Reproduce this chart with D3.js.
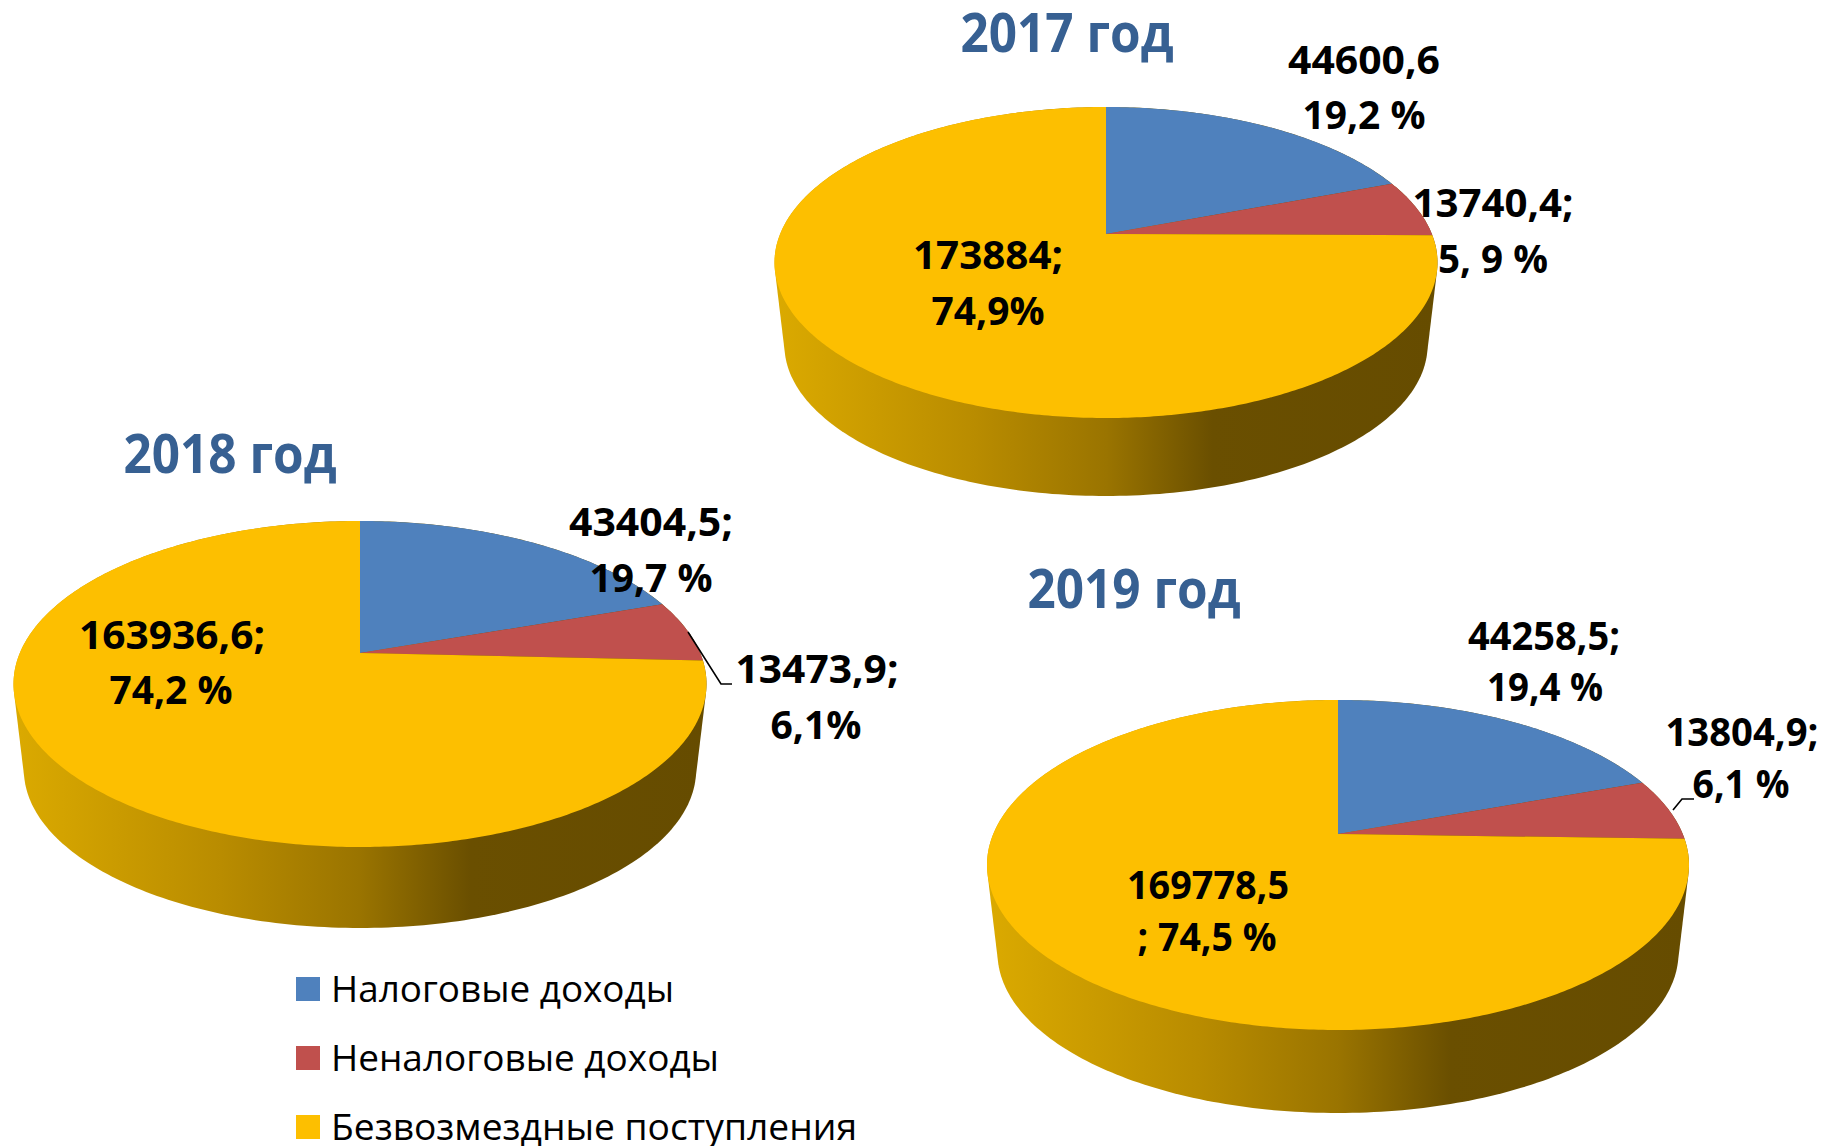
<!DOCTYPE html>
<html><head><meta charset="utf-8">
<script src="https://cdn.jsdelivr.net/npm/d3@7"></script>
<style>html,body{margin:0;padding:0;background:#fff}svg{display:block}text{font-family:"Open Sans",sans-serif}</style>
</head><body><svg id="c" width="1821" height="1146"></svg>
<script>
const categories = ["Налоговые доходы", "Неналоговые доходы", "Безвозмездные поступления"];
const colors = ["#4F81BD", "#C0504D", "#FDBF00"];
const years = ["2017 год", "2018 год", "2019 год"];
const values2017 = [44600.6, 13740.4, 173884];
const values2018 = [43404.5, 13473.9, 163936.6];
const values2019 = [44258.5, 13804.9, 169778.5];
const labels2017 = [["44600,6", "19,2 %"], ["13740,4;", "5, 9 %"], ["173884;", "74,9%"]];
const labels2018 = [["43404,5;", "19,7 %"], ["13473,9;", "6,1%"], ["163936,6;", "74,2 %"]];
const labels2019 = [["44258,5;", "19,4 %"], ["13804,9;", "6,1 %"], ["169778,5", "; 74,5 %"]];

// Layout only (no data): pie geometry and text placement [centre x, baseline, width]
const layouts = [
  {cx:1106, apex:234, left:775, right:1438, top:107, bottom:418, sideBottom:496,
   title:[1067,52,213], pos:[[[1364,74,152],[1364,129,123]],[[1493,217,161],[1493,273,110]],[[988,269,150],[988,325,113]]], leader:null},
  {cx:360, apex:653, left:13, right:706, top:521, bottom:847, sideBottom:928,
   title:[230,473,213], pos:[[[651,536,164],[651,592,123]],[[817,683,163],[816,739,91]],[[172,649,186],[171,704,123]]],
   leader:[[688,632],[721,684],[732,684]]},
  {cx:1338, apex:834, left:987, right:1689, top:700, bottom:1030, sideBottom:1113,
   title:[1134,608,213], pos:[[[1544,650,152],[1545,701,116]],[[1742,746,153],[1741,798,97]],[[1208,899,162],[1207,951,139]]],
   leader:[[1673,810],[1682,799],[1694,799]]}
];
const allValues = [values2017, values2018, values2019];
const allLabels = [labels2017, labels2018, labels2019];

const svg = d3.select("#c");
const defs = svg.append("defs");
const pie = d3.pie().sort(null);
const line = d3.line();

function projector(L) {
  const up = L.apex - L.top, down = L.bottom - L.apex;
  const k = (down - up) / (down + up);
  const B = up * (1 + k);
  const A = (L.right - L.left) / 2 * Math.sqrt(1 - k * k);
  return (a, r = 1, s = 1, ay = L.apex) => {
    const x = r * Math.sin(a), y = -r * Math.cos(a), w = 1 - k * y;
    return [L.cx + s * A * x / w, ay + s * B * y / w];
  };
}

layouts.forEach((L, i) => {
  const g = svg.append("g");
  const P = projector(L);
  const ring = d3.range(0, 360).map(d => d * Math.PI / 180);
  const shrink = 0.97;
  const apex2 = L.sideBottom - shrink * (L.bottom - L.apex);
  const hull = d3.polygonHull(ring.map(a => P(a)).concat(ring.map(a => P(a, 1, shrink, apex2))));
  const gid = "side" + i;
  const grad = defs.append("linearGradient").attr("id", gid)
    .attr("gradientUnits", "userSpaceOnUse")
    .attr("x1", L.left).attr("x2", L.right).attr("y1", 0).attr("y2", 0);
  [[0, "#DBAA00"], [0.3, "#B98C00"], [0.5, "#9A7400"], [0.66, "#6A4F00"], [1, "#664C00"]]
    .forEach(s => grad.append("stop").attr("offset", s[0]).attr("stop-color", s[1]));
  g.append("path").attr("d", line(hull) + "Z").attr("fill", `url(#${gid})`);

  g.selectAll("path.slice").data(pie(allValues[i])).join("path").attr("class", "slice")
    .attr("fill", (d, j) => colors[j])
    .attr("d", d => {
      const n = Math.ceil((d.endAngle - d.startAngle) * 90);
      const pts = d3.range(n + 1).map(t => P(d.startAngle + (d.endAngle - d.startAngle) * t / n));
      return line([[L.cx, L.apex], ...pts]) + "Z";
    });

  if (L.leader) g.append("path").attr("d", line(L.leader)).attr("fill", "none")
    .attr("stroke", "#000").attr("stroke-width", 1.6);

  g.append("text").text(years[i])
    .attr("x", L.title[0]).attr("y", L.title[1]).attr("text-anchor", "middle")
    .attr("font-size", 54).attr("font-weight", 700).attr("fill", "#376092")
    .attr("textLength", L.title[2]).attr("lengthAdjust", "spacingAndGlyphs");

  allLabels[i].forEach((pair, j) => pair.forEach((t, m) => {
    const p = L.pos[j][m];
    g.append("text").text(t).attr("x", p[0]).attr("y", p[1]).attr("text-anchor", "middle")
      .attr("font-size", 40).attr("font-weight", 700).attr("fill", "#000")
      .attr("textLength", p[2]).attr("lengthAdjust", "spacingAndGlyphs");
  }));
});

const legendY = d3.scalePoint().domain(categories).range([989, 1127]);
const legendW = [343, 388, 526];
const lg = svg.append("g").selectAll("g").data(categories).join("g")
  .attr("transform", d => `translate(296,${legendY(d)})`);
lg.append("rect").attr("x", 0).attr("y", -12).attr("width", 24).attr("height", 24)
  .attr("fill", (d, i) => colors[i]);
lg.append("text").text(d => d).attr("x", 35).attr("y", 13).attr("font-size", 36)
  .attr("fill", "#000")
  .attr("textLength", (d, i) => legendW[i]).attr("lengthAdjust", "spacingAndGlyphs");
</script></body></html>
